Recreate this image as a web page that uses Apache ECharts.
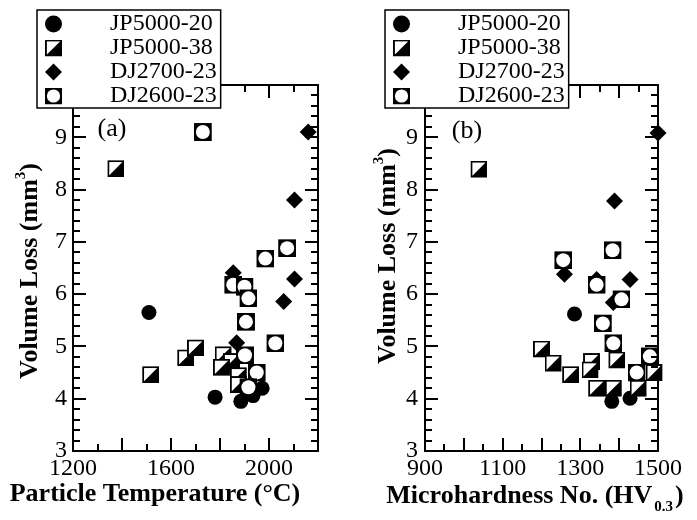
<!DOCTYPE html>
<html><head><meta charset="utf-8">
<script src="https://cdn.jsdelivr.net/npm/echarts@6/dist/echarts.min.js"></script>
<style>html,body{margin:0;padding:0;background:#fff}#c{width:697px;height:520px}</style>
</head><body><div id="c"></div>
<script>
const seriesNames = ['JP5000-20', 'JP5000-38', 'DJ2700-23', 'DJ2600-23'];

// Panel (a): particle temperature (°C) vs volume loss (mm³)
const tempJP20 = [[1510, 5.65], [1780, 4.03], [1885, 3.95], [1935, 4.06], [1972, 4.2]];
const tempJP38 = [[1375, 8.4], [1517, 4.46], [1660, 4.78], [1700, 4.97], [1813, 4.84], [1847, 4.71],
                  [1806, 4.6], [1875, 4.44], [1875, 4.27], [1916, 4.2]];
const tempDJ27 = [[2160, 9.1], [2104, 7.8], [2104, 6.29], [1854, 6.41], [2060, 5.86], [1868, 5.07]];
const tempDJ26 = [[1730, 9.1], [2074, 6.88], [1985, 6.68], [1854, 6.18], [1900, 6.14], [1916, 5.92],
                  [1906, 5.47], [2026, 5.06], [1902, 4.83], [1950, 4.5], [1916, 4.22]];

// Panel (b): microhardness (HV0.3) vs volume loss (mm³)
const hardJP20 = [[1285, 5.62], [1381, 3.95], [1428, 4.01]];
const hardJP38 = [[1039, 8.39], [1200, 4.95], [1230, 4.68], [1275, 4.46], [1329, 4.71], [1325, 4.55],
                  [1394, 4.74], [1342, 4.2], [1385, 4.2], [1449, 4.2], [1490, 4.5]];
const hardDJ27 = [[1500, 9.08], [1388, 7.78], [1259, 6.38], [1428, 6.28], [1342, 6.28], [1385, 5.84]];
const hardDJ26 = [[1383, 6.84], [1256, 6.65], [1342, 6.18], [1406, 5.9], [1358, 5.44], [1385, 5.06],
                  [1445, 4.5], [1479, 4.81]];

// Tick labels and tick positions
const xLabelsA = [1200, 1600, 2000];
const xLabelsB = [900, 1100, 1300, 1500];
const yLabels = [3, 4, 5, 6, 7, 8, 9];
const xMajorA = [1200, 1400, 1600, 1800, 2000, 2200];
const xMinorA = [1300, 1500, 1700, 1900, 2100];
const xMajorB = [900, 1000, 1100, 1200, 1300, 1400, 1500];
const xMinorB = [950, 1050, 1150, 1250, 1350, 1450];
const yMajor = [3, 4, 5, 6, 7, 8, 9, 10];
const yMinorSteps = [0.2, 0.4, 0.6, 0.8];

const FONT = 'Liberation Serif';
function svgUri(body) {
  const s = "<svg xmlns='http://www.w3.org/2000/svg' width='72' height='72' viewBox='0 0 18 18'>" + body + "</svg>";
  return 'image://data:image/svg+xml;base64,' + btoa(s);
}
const halfSquare = svgUri("<rect x='1' y='1' width='16' height='16' fill='#fff' stroke='#000' stroke-width='2'/><path d='M17 1 L17 17 L1 17 Z' fill='#000'/>");
const circSquare = svgUri("<rect x='0' y='0' width='18' height='18' fill='#000'/><circle cx='9' cy='9' r='7' fill='#fff'/>");

const symbols = {
  'JP5000-20': {symbol: 'circle', size: 15},
  'JP5000-38': {symbol: halfSquare, size: 17},
  'DJ2700-23': {symbol: 'diamond', size: 17},
  'DJ2600-23': {symbol: circSquare, size: 18}
};

function common(labels, margin) {
  return {
    axisLine: {show: true, onZero: false, lineStyle: {color: '#000', width: 2}},
    axisTick: {show: false},
    minorTick: {show: false},
    splitLine: {show: false},
    axisLabel: {show: !!labels, margin: margin, color: '#000', fontFamily: FONT, fontSize: 24,
      formatter: v => (labels && labels.includes(v)) ? String(v) : ''}
  };
}
function xAx(grid, min, max, interval, pos, labels) {
  return Object.assign({gridIndex: grid, type: 'value', min, max, interval, position: pos}, common(labels, 6));
}
function yAx(grid, pos, labels, margin) {
  return Object.assign({gridIndex: grid, type: 'value', min: 3, max: 10, interval: 1, position: pos}, common(labels, margin || 6));
}
function sc(name, data, xi, yi) {
  return {type: 'scatter', name, data, xAxisIndex: xi, yAxisIndex: yi, clip: false,
    symbol: symbols[name].symbol, symbolSize: symbols[name].size,
    itemStyle: {color: '#000', opacity: 1}, emphasis: {disabled: true}};
}
function tickData(xMajor, xMinor) {
  const data = [];
  xMajor.forEach(v => data.push([v, 0, 13]));
  xMinor.forEach(v => data.push([v, 0, 7]));
  yMajor.forEach(v => data.push([v, 1, 13]));
  yMajor.slice(0, -1).forEach(v => yMinorSteps.forEach(s => data.push([v + s, 1, 7])));
  return data;
}
// inward frame ticks on all four sides as small filled bars, placed through the axes' scales
function tickSeries(xi, yi, xMajor, xMinor) {
  const xmin = xMajor[0], xmax = xMajor[xMajor.length - 1];
  const W = 2;
  return {
    type: 'custom', name: 'frame-ticks', xAxisIndex: xi, yAxisIndex: yi, clip: false, silent: true,
    z: 3, data: tickData(xMajor, xMinor),
    renderItem: (params, api) => {
      const v = api.value(0), kind = api.value(1), len = api.value(2);
      const st = {fill: '#000', stroke: null};
      if (kind === 0) {
        const pb = api.coord([v, 3]), pt = api.coord([v, 10]);
        const x = Math.round(pb[0]) - W / 2;
        return {type: 'group', children: [
          {type: 'rect', shape: {x: x, y: pb[1] - len, width: W, height: len}, style: st},
          {type: 'rect', shape: {x: x, y: pt[1], width: W, height: len}, style: st}
        ]};
      }
      const pl = api.coord([xmin, v]), pr = api.coord([xmax, v]);
      const y = Math.round(pl[1]) - W / 2;
      return {type: 'group', children: [
        {type: 'rect', shape: {x: pl[0], y: y, width: len, height: W}, style: st},
        {type: 'rect', shape: {x: pr[0] - len, y: y, width: len, height: W}, style: st}
      ]};
    }
  };
}
function legend(left) {
  return {
    left, top: 10, orient: 'vertical', selectedMode: false, z: 10,
    backgroundColor: '#fff', borderColor: '#000', borderWidth: 1.5,
    padding: [2, 4, 0, 8], itemWidth: 17, itemHeight: 17, itemGap: 0,
    textStyle: {fontFamily: FONT, fontSize: 24, color: '#000', lineHeight: 24, padding: [0, 0, 0, 43]},
    data: seriesNames.map(n => ({name: n, icon: symbols[n].symbol}))
  };
}

const texts = [
  {type: 'text', x: 112, y: 129, style: {text: '(a)', font: '26px "Liberation Serif"', fill: '#000', textAlign: 'center', textVerticalAlign: 'middle'}},
  {type: 'text', x: 467, y: 131, style: {text: '(b)', font: '26px "Liberation Serif"', fill: '#000', textAlign: 'center', textVerticalAlign: 'middle'}},
  {type: 'text', x: 155, y: 494, style: {text: 'Particle Temperature (°C)', font: 'bold 26px "Liberation Serif"', fill: '#000', textAlign: 'center', textVerticalAlign: 'middle'}},
  {type: 'text', x: 535, y: 496, style: {text: 'Microhardness No. (HV{sub|0.3})', font: 'bold 26px "Liberation Serif"', fill: '#000', textAlign: 'center', textVerticalAlign: 'middle',
    rich: {sub: {font: 'bold 15px "Liberation Serif"', fill: '#000', padding: [22, 2, 0, 2]}}}},
  {type: 'text', x: 30, y: 271, rotation: Math.PI / 2, style: {text: 'Volume Loss (mm{sup|3})', font: 'bold 26px "Liberation Serif"', fill: '#000', textAlign: 'center', textVerticalAlign: 'middle',
    rich: {sup: {font: 'bold 15px "Liberation Serif"', fill: '#000', padding: [0, 0, 18, 0]}}}},
  {type: 'text', x: 388, y: 256, rotation: Math.PI / 2, style: {text: 'Volume Loss (mm{sup|3})', font: 'bold 26px "Liberation Serif"', fill: '#000', textAlign: 'center', textVerticalAlign: 'middle',
    rich: {sup: {font: 'bold 15px "Liberation Serif"', fill: '#000', padding: [0, 0, 18, 0]}}}}
];

const chart = echarts.init(document.getElementById('c'), null, {renderer: 'canvas'});
chart.setOption({
  animation: false,
  backgroundColor: '#fff',
  grid: [
    {left: 73, top: 85, width: 245, height: 366},
    {left: 425, top: 85, width: 233, height: 366}
  ],
  xAxis: [
    xAx(0, 1200, 2200, 200, 'bottom', xLabelsA),
    xAx(0, 1200, 2200, 200, 'top', null),
    xAx(1, 900, 1500, 100, 'bottom', xLabelsB),
    xAx(1, 900, 1500, 100, 'top', null)
  ],
  yAxis: [
    yAx(0, 'left', yLabels, 6),
    yAx(0, 'right', null),
    yAx(1, 'left', yLabels, 7),
    yAx(1, 'right', null)
  ],
  legend: [legend(37), legend(385)],
  series: [
    sc('JP5000-20', tempJP20, 0, 0),
    sc('JP5000-38', tempJP38, 0, 0),
    sc('DJ2700-23', tempDJ27, 0, 0),
    sc('DJ2600-23', tempDJ26, 0, 0),
    sc('JP5000-20', hardJP20, 2, 2),
    sc('JP5000-38', hardJP38, 2, 2),
    sc('DJ2700-23', hardDJ27, 2, 2),
    sc('DJ2600-23', hardDJ26, 2, 2),
    tickSeries(0, 0, xMajorA, xMinorA),
    tickSeries(2, 2, xMajorB, xMinorB)
  ],
  graphic: {elements: texts}
});
</script>
</body></html>
